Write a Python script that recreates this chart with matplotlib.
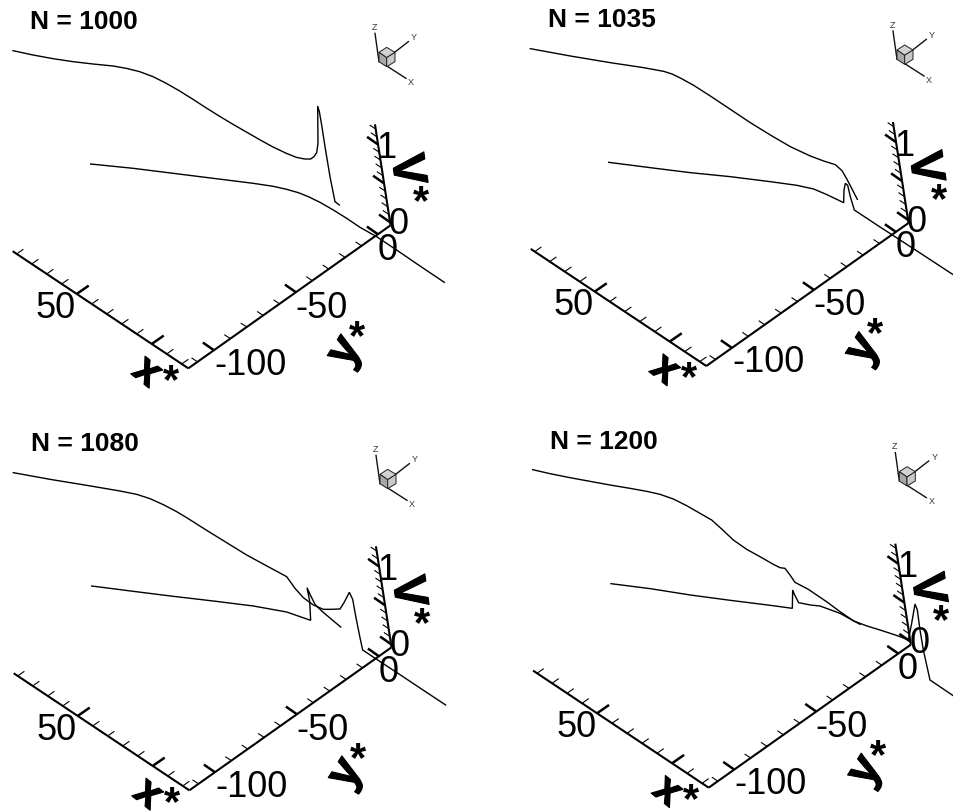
import numpy as np
import matplotlib
matplotlib.use("Agg")
import matplotlib.pyplot as plt
import matplotlib.patheffects as pe
from matplotlib.patches import Polygon

plt.rcParams['font.family'] = ['Liberation Sans', 'DejaVu Sans']

W, H = 954, 811
TITLES = ["N = 1000", "N = 1035", "N = 1080", "N = 1200"]

# Curves, in each panel's plot frame
N1000_upper_u = [39,99,159,219,279,339,379,419,459,499,539,579,619,659,699,739,779,819,859,889,914,932,942,950,954,953,958,965,975,990,1005,1018]
N1000_upper_w = [152,165,176,185,192,198,205,215,230,250,273,298,324,349,373,396,419,441,460,472,477,477,470,458,430,318,335,375,440,530,605,615]
N1000_lower_u = [272,400,520,640,760,820,860,895,925,960,1000,1040,1080,1130,1200,1260,1333]
N1000_lower_w = [492,505,520,535,550,559,568,578,590,607,630,655,682,710,757,798,847]

N1035_upper_u = [160,280,400,500,560,585,610,650,700,760,820,880,940,1000,1040,1075,1095,1110,1125,1141]
N1035_upper_w = [146,168,188,203,214,222,234,256,288,328,368,405,440,468,483,494,512,538,567,598]
N1035_lower_u = [395,520,640,760,880,960,1010,1050,1100,1101,1105,1112,1120,1132,1200,1260,1320,1430]
N1035_lower_w = [487,503,518,530,545,556,567,584,608,570,550,556,590,630,675,714,753,825]

N1080_upper_u = [40,150,260,360,410,450,490,530,560,620,680,740,810,860,885,910,940,970,990,1020,1032,1048,1058,1068,1080,1088,1130,1200,1260,1337]
N1080_upper_w = [185,205,223,240,250,263,281,302,320,358,395,432,470,497,532,560,582,595,595,594,575,544,565,620,680,717,745,791,831,882]
N1080_lower_u = [275,400,520,640,760,860,932,929,921,930,945,965,1022]
N1080_lower_w = [525,541,556,570,585,603,628,570,530,550,580,600,648]

N1200_upper_u = [167,219,279,339,399,459,509,549,589,629,669,704,734,769,809,849,889,909,924,939,954,994,1050,1089,1130,1170,1209,1264,1294,1304,1314,1321,1329,1339,1359,1430]
N1200_upper_w = [176,188,200,211,222,232,241,250,264,284,307,327,354,387,415,437,460,470,472,492,514,535,573,602,630,645,657,675,687,637,579,597,657,717,807,855]
N1200_lower_u = [402,520,640,760,880,946,947,952,965,1000,1029,1089,1149]
N1200_lower_w = [518,533,552,568,583,592,537,550,575,582,585,607,640]

CURVES = [
    ((N1000_upper_u, N1000_upper_w), (N1000_lower_u, N1000_lower_w)),
    ((N1035_upper_u, N1035_upper_w), (N1035_lower_u, N1035_lower_w)),
    ((N1080_upper_u, N1080_upper_w), (N1080_lower_u, N1080_lower_w)),
    ((N1200_upper_u, N1200_upper_w), (N1200_lower_u, N1200_lower_w)),
]

# Axis ticks
x_major = [50, 0]
x_minor = [90, 80, 70, 60, 40, 30, 20, 10, -10, -20]
y_major = [-100, -50, 0]
y_minor = [-110, -90, -80, -70, -60, -40, -30, -20, -10]
v_major = [0, 0.5, 1]
v_minor = [0.1, 0.2, 0.3, 0.4, 0.6, 0.7, 0.8, 0.9, 1.1, 1.2]

# Panel frames: pixel rectangle and axes corner in the 3x frame
FRAMES = [(0, 0), (477, 0), (0, 411), (477, 411)]
CORNERS = [(565, 1105), (688, 1098), (568, 1138), (695, 1130)]

XR = (-24.4, 92.7)
YR = (-115.6, 7.7)
VR = (-0.04, 1.26)
EX = np.array([-4.5, -3.0])    # per unit x*
EY = np.array([4.92, -3.48])   # per unit y*
EV = np.array([-36.0, -233.0]) # per unit v*

fig = plt.figure(figsize=(W / 100, H / 100), dpi=100, facecolor='white')


def txt(ax, c, dx, dy, s, **kw):
    kw.setdefault('ha', 'center')
    kw.setdefault('va', 'center')
    kw.setdefault('color', 'black')
    ax.text(c[0] + dx, c[1] + dy, s, **kw)


for i in range(4):
    fx, fy = FRAMES[i]
    ax = fig.add_axes([fx / W, 1 - (fy + 400) / H, 477 / W, 400 / H])
    ax.set_xlim(0, 1431)
    ax.set_ylim(1200, 0)
    ax.axis('off')
    c = np.array(CORNERS[i], dtype=float)

    y_line = lambda y: c + (y - YR[0]) * EY
    x_line = lambda x: c + (x - XR[0]) * EX
    vbase = y_line(YR[1])
    v_line = lambda v: vbase + (v - VR[0]) * EV

    for a, b in [(x_line(XR[0]), x_line(XR[1])), (y_line(YR[0]), y_line(YR[1])), (v_line(VR[0]), v_line(VR[1]))]:
        ax.plot([a[0], b[0]], [a[1], b[1]], color='black', lw=1.5, solid_capstyle='butt', zorder=3)

    def ticks(vals, line, d, lw):
        for t in vals:
            p = line(t)
            ax.plot([p[0], p[0] + d[0]], [p[1], p[1] + d[1]], color='black', lw=lw,
                    solid_capstyle='butt', zorder=3)

    ticks(x_major, x_line, (36, -25), 1.8)
    ticks(x_minor, x_line, (20, -14), 0.8)
    ticks(y_major, y_line, (-33, -23), 1.8)
    ticks(y_minor, y_line, (-18, -12), 0.8)
    ticks(v_major, v_line, (-33, -23), 1.8)
    ticks(v_minor, v_line, (-18, -12), 0.8)

    for u, w in CURVES[i]:
        ax.plot(u, w, color='black', lw=1.0, solid_joinstyle='miter', zorder=4)

    tk = dict(fontsize=26, zorder=5)
    txt(ax, c, -397, -181, "50", **tk)
    txt(ax, c, 400, -181, "-50", **tk)
    txt(ax, c, 187, -9, "-100", **tk)
    txt(ax, c, 598, -355, "0", **tk)
    txt(ax, c, 632, -432, "0", **tk)
    txt(ax, c, 595, -660, "1", **tk)

    # axis titles
    heavy = [pe.withStroke(linewidth=0.8, foreground='black')]
    b = dict(fontweight='bold', zorder=5, path_effects=heavy)
    txt(ax, c, -125, 12, "x", fontsize=31, rotation=-38, **b)
    txt(ax, c, -52, 40, "*", fontsize=30, fontweight='bold', zorder=5)
    txt(ax, c, 470, -50, "y", fontsize=34, rotation=58, **b)
    txt(ax, c, 507, -92, "*", fontsize=30, fontweight='bold', zorder=5)
    txt(ax, c, 652, -595, "V", fontsize=34, rotation=-82, **b)
    txt(ax, c, 697, -496, "*", fontsize=30, fontweight='bold', zorder=5)

    # panel title
    ax.text(c[0] - 475, c[1] - 1017, TITLES[i], fontsize=19, fontweight='bold',
            ha='left', va='baseline', color='black', zorder=5)

    # orientation triad
    t = c + np.array([595, -935])
    for d0, d1 in [((-23, 15), (-35, -70)), ((20, -10), (65, -45)), ((-20, 15), (58, 65))]:
        ax.plot([t[0] + d0[0], t[0] + d1[0]], [t[1] + d0[1], t[1] + d1[1]], color='#111111', lw=1.0, zorder=5)
    top = [(0, -28), (25, -13), (0, 3), (-23, -13)]
    left = [(-23, -13), (0, 3), (0, 30), (-23, 15)]
    right = [(0, 3), (25, -13), (25, 15), (0, 30)]
    for face, col in [(top, '#d2d2d2'), (left, '#a8a8a8'), (right, '#c8c8c8')]:
        ax.add_patch(Polygon([(t[0] + p, t[1] + q) for p, q in face], closed=True, facecolor=col,
                             edgecolor='#222222', lw=0.7, zorder=6))
    sm = dict(fontsize=6.5, color='#333333', zorder=6)
    ax.text(t[0] - 37, t[1] - 88, "Z", ha='center', va='center', **sm)
    ax.text(t[0] + 82, t[1] - 57, "Y", ha='center', va='center', **sm)
    ax.text(t[0] + 73, t[1] + 78, "X", ha='center', va='center', **sm)

fig.savefig("out.png", dpi=100, facecolor='white')
